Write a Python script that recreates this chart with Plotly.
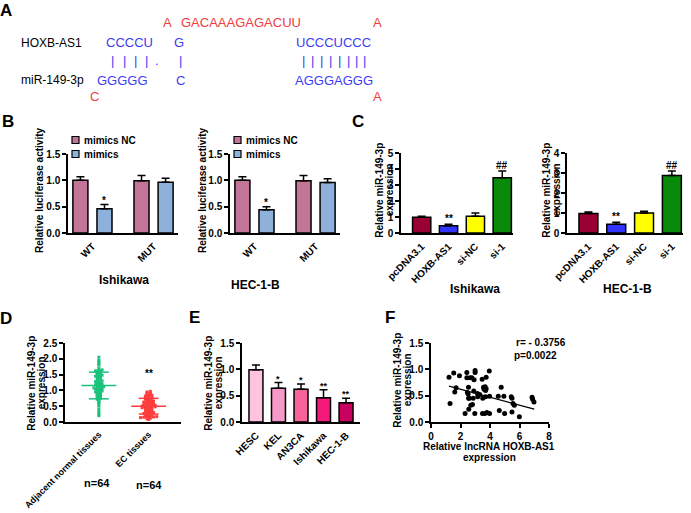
import numpy as np
import plotly.graph_objects as go

W, H = 691, 513
FONT = "Liberation Sans, Arial, sans-serif"
SEQFONT = "Liberation Sans, Arial, sans-serif"

# ---------------- data ----------------
# Panel A (sequence pairing)
a_loop_top = ["A", "GACAAAGAGACUU", "A"]
a_hoxb = ["CCCCU", "G", "UCCCUCCC"]
a_mir = ["GGGGG", "C", "AGGGAGGG"]
a_loop_bottom = ["C", "A"]
a_pairs_left = ["|", "|", "|", "|", ".", "|"]
a_pairs_right = ["|", "|", "|", "|", "|", "|", "|", "|"]
a_names = ["HOXB-AS1", "miR-149-3p"]

# Panel B (luciferase)
b_groups = ["WT", "MUT"]
b_series = ["mimics NC", "mimics"]
b_ish_nc = [1.00, 0.99]
b_ish_nc_err = [0.07, 0.10]
b_ish_mim = [0.46, 0.965]
b_ish_mim_err = [0.08, 0.075]
b_hec_nc = [1.00, 0.99]
b_hec_nc_err = [0.07, 0.10]
b_hec_mim = [0.44, 0.96]
b_hec_mim_err = [0.06, 0.07]
b_sig = ["*", ""]
b_ytitle = "Relative luciferase activity"

# Panel C
c_cats = ["pcDNA3.1", "HOXB-AS1", "si-NC", "si-1"]
c_ish = [0.98, 0.45, 1.05, 3.45]
c_ish_err = [0.06, 0.10, 0.20, 0.43]
c_hec = [0.98, 0.44, 1.00, 2.87]
c_hec_err = [0.07, 0.10, 0.09, 0.23]
c_sig = ["", "**", "", "##"]
cell_lines = ["Ishikawa", "HEC-1-B"]
mir_ytitle = ["Relative miR-149-3p", "expression"]

# Panel D (tissues)
d_cats = ["Adjacent normal tissues", "EC tissues"]
d_normal = [0.20, 0.25, 0.32, 0.40, 0.50, 0.58, 0.62, 0.66, 0.70, 0.72, 0.75,
            0.78, 0.80, 0.83, 0.86, 0.88, 0.90, 0.92, 0.95, 0.97, 1.00, 1.02,
            1.04, 1.06, 1.08, 1.10, 1.12, 1.14, 1.16, 1.18, 1.20, 1.22, 1.25,
            1.28, 1.30, 1.32, 1.35, 1.38, 1.40, 1.42, 1.45, 1.48, 1.50, 1.52,
            1.55, 1.57, 1.58, 1.60, 1.62, 1.63, 1.65, 1.20, 1.05, 0.98, 0.85,
            1.10, 1.30, 1.45, 1.70, 1.80, 1.85, 1.90, 1.95, 2.05]
d_ec = [0.08, 0.10, 0.12, 0.14, 0.15, 0.15, 0.16, 0.17, 0.18, 0.20, 0.22,
        0.24, 0.25, 0.27, 0.28, 0.30, 0.32, 0.34, 0.35, 0.37, 0.38, 0.40,
        0.42, 0.44, 0.45, 0.46, 0.48, 0.48, 0.50, 0.50, 0.51, 0.52, 0.53,
        0.55, 0.56, 0.58, 0.60, 0.60, 0.62, 0.63, 0.65, 0.66, 0.68, 0.70,
        0.72, 0.74, 0.75, 0.77, 0.78, 0.80, 0.82, 0.84, 0.85, 0.87, 0.88,
        0.90, 0.92, 0.95, 0.97, 0.16, 0.47, 0.64, 0.30, 0.55]
d_n = ["n=64", "n=64"]

# Panel E (cell lines)
e_cats = ["HESC", "KEL", "AN3CA", "Ishikawa", "HEC-1-B"]
e_vals = [0.99, 0.64, 0.62, 0.46, 0.365]
e_err = [0.09, 0.11, 0.10, 0.15, 0.085]
e_sig = ["", "*", "*", "**", "**"]

# Panel F (correlation)
f_x = [1.22, 1.29, 1.54, 1.61, 1.70, 1.93, 2.31, 2.43, 2.43, 2.47, 2.52, 2.54,
       2.59, 2.56, 2.65, 2.77, 2.70, 2.81, 2.86, 2.90, 2.92, 2.99, 2.99, 2.97,
       3.15, 3.17, 3.47, 3.49, 3.51, 3.56, 3.63, 3.67, 3.65, 3.74, 3.74, 3.70,
       3.79, 3.95, 3.97, 3.97, 4.56, 4.63, 4.76, 4.94, 4.99, 5.44, 5.49, 5.49,
       5.56, 5.65, 5.99, 6.85, 6.89, 6.98, 3.60, 3.70, 2.55, 3.30]
f_y = [0.85, 0.35, 0.93, 0.57, 0.65, 0.88, 0.16, 0.94, 0.84, 0.56, 0.53, 0.66,
       0.45, 0.24, 0.84, 0.84, 0.32, 0.33, 0.45, 0.59, 0.80, 0.98, 0.94, 0.16,
       0.54, 0.48, 0.81, 0.16, 0.45, 0.66, 0.63, 0.67, 0.16, 0.85, 0.63, 0.48,
       0.18, 0.97, 0.49, 0.16, 0.49, 0.22, 0.66, 0.49, 0.16, 0.48, 0.45, 0.19,
       0.35, 0.32, 0.10, 0.47, 0.43, 0.38, 0.62, 0.60, 0.45, 0.52]
f_fit_x = [1.22, 7.00]
f_fit_y = [0.68, 0.245]
f_stats = ["r= - 0.3756", "p=0.0022"]
f_xtitle = ["Relative lncRNA HOXB-AS1", "expression"]

# ---------------- style ----------------
COL_NC = "#c27499"
COL_MIM = "#8db1da"
C_COLORS = ["#990033", "#3333ff", "#ffff00", "#0a8a0a"]
E_COLORS = ["#ffc2df", "#f799c8", "#f86499", "#f5197c", "#c8005e"]
COL_GREEN = "#19c27b"
COL_RED = "#ff3d3d"
COL_BLUE_A = "#3c3cf2"
COL_RED_A = "#f03c3c"


def fx(px):
    return px / W


def fy(py):
    return 1 - py / H


fig = go.Figure()
annots = []
shapes = []


def axis_style(**kw):
    d = dict(showline=True, linecolor="black", linewidth=1.5, showgrid=False,
             zeroline=False, ticks="outside", ticklen=4, tickwidth=1.5,
             tickcolor="black", fixedrange=True, automargin=False,
             tickfont=dict(family=FONT, size=10, color="black", weight="bold"))
    d.update(kw)
    return d


def title_font(size=10):
    return dict(family=FONT, size=size, color="black", weight="bold")


def text(x, y, s, size=10, color="black", bold=True, xanchor="center",
         yanchor="middle", family=FONT, textangle=0):
    annots.append(dict(x=fx(x), y=fy(y), xref="paper", yref="paper", text=s,
                       showarrow=False, xanchor=xanchor, yanchor=yanchor,
                       textangle=textangle, borderpad=0,
                       font=dict(family=family, size=size, color=color,
                                 weight="bold" if bold else "normal")))


def ytitle(x, y, lines, gap=10.5):
    n = len(lines)
    for i, s in enumerate(lines):
        text(x + (i - (n - 1) / 2) * gap, y, s, size=10, textangle=-90)


# ---------------- Panel A ----------------
text(6, 10, "A", size=17)
ya1, ya2, ya3, ya4 = 23, 43, 60, 80
SQ = 13
text(167.5, ya1, a_loop_top[0], size=SQ, color=COL_RED_A, bold=False, family=SEQFONT)
text(241, ya1, a_loop_top[1], size=SQ, color=COL_RED_A, bold=False, family=SEQFONT)
text(377.5, ya1, a_loop_top[2], size=SQ, color=COL_RED_A, bold=False, family=SEQFONT)
text(51, ya2, a_names[0], size=12, bold=False, family=SEQFONT)
text(52, ya4, a_names[1], size=12, bold=False, family=SEQFONT)
for s, xc in zip(a_hoxb, [129.5, 179, 333.5]):
    text(xc, ya2, s, size=SQ, color=COL_BLUE_A, bold=False, family=SEQFONT)
for s, xc in zip(a_mir, [123, 181, 333.5]):
    text(xc, ya4, s, size=SQ, color=COL_BLUE_A, bold=False, family=SEQFONT)
for s, xc in zip(a_pairs_left, [113, 124, 135, 146, 157, 180]):
    text(xc, ya3, s, size=SQ, color=COL_BLUE_A, bold=False, family=SEQFONT)
for s, xc in zip(a_pairs_right, [303, 312, 321, 330, 339, 348, 356, 364]):
    text(xc, ya3, s, size=SQ, color=COL_BLUE_A, bold=False, family=SEQFONT)
text(94, 96, a_loop_bottom[0], size=SQ, color=COL_RED_A, bold=False, family=SEQFONT)
text(377.5, 96, a_loop_bottom[1], size=SQ, color=COL_RED_A, bold=False, family=SEQFONT)

# ---------------- Panel B ----------------
text(8, 121, "B", size=17)
B_TOP, B_BOT = 154, 233
b_sets = [
    (1, (68, 178), b_ish_nc, b_ish_nc_err, b_ish_mim, b_ish_mim_err, 124, 280, 39),
    (2, (230, 340), b_hec_nc, b_hec_nc_err, b_hec_mim, b_hec_mim_err, 255, 285, 202),
]
BW = 0.246
for k, dom, nc, ncerr, mim, mimerr, lx, ly, tx in b_sets:
    xa = "x" if k == 1 else f"x{k}"
    ya = "y" if k == 1 else f"y{k}"
    for vals, errs, col, off, nm in [(nc, ncerr, COL_NC, -0.32, b_series[0]),
                                      (mim, mimerr, COL_MIM, 0.074, b_series[1])]:
        fig.add_trace(go.Bar(
            x=b_groups, y=vals, width=BW, offset=off, name=nm, showlegend=False,
            xaxis=xa, yaxis=ya,
            marker=dict(color=col, line=dict(color="black", width=1.5)),
            error_y=dict(type="data", array=errs, arrayminus=[0] * len(errs),
                         symmetric=False, color="black", thickness=1.5, width=4)))
    for i, s in enumerate(b_sig):
        if s:
            annots.append(dict(x=i + 0.074 + BW / 2, y=mim[i] + mimerr[i],
                               xref=xa, yref=ya, text=s, showarrow=False,
                               yanchor="bottom", yshift=-3,
                               font=title_font(10)))
    fig.layout[f"xaxis{k}"] = axis_style(
        domain=[fx(dom[0]), fx(dom[1])], anchor=ya, type="category",
        range=[-0.4, 1.4], ticks="", tickangle=-45, ticklabelstandoff=2)
    fig.layout[f"yaxis{k}"] = axis_style(
        domain=[fy(B_BOT), fy(B_TOP)], anchor=xa, range=[0, 1.5],
        tickvals=[0, 0.5, 1.0, 1.5], ticktext=["0.0", "0.5", "1.0", "1.5"])
    ytitle(tx, 190, [b_ytitle])
    # legend swatches
    for j, (nm, col) in enumerate(zip(b_series, [COL_NC, COL_MIM])):
        yy = 140 + 14 * j
        x0 = dom[0] + 4
        shapes.append(dict(type="rect", xref="paper", yref="paper",
                           x0=fx(x0), x1=fx(x0 + 7), y0=fy(yy + 3.5), y1=fy(yy - 3.5),
                           fillcolor=col, line=dict(color="black", width=1.2)))
        text(x0 + 11, yy, nm, size=10, xanchor="left")
    text(lx, ly, cell_lines[k - 1], size=12)

# ---------------- Panel C ----------------
text(358, 121, "C", size=17)
C_TOP, C_BOT = 153, 233
c_sets = [(3, (401, 513), c_ish, c_ish_err, [0, 1, 2, 3, 4, 5], 475, 289, 384),
          (4, (567, 683), c_hec, c_hec_err, [0, 1, 2, 3, 4], 627, 289, 551)]
for k, dom, vals, errs, tv, lx, ly, tx in c_sets:
    xa, ya = f"x{k}", f"y{k}"
    fig.add_trace(go.Bar(
        x=c_cats, y=vals, width=0.68, showlegend=False, xaxis=xa, yaxis=ya,
        marker=dict(color=C_COLORS, line=dict(color="black", width=1.5)),
        error_y=dict(type="data", array=errs, arrayminus=[0] * len(errs),
                     symmetric=False, color="black", thickness=1.5, width=4)))
    for i, s in enumerate(c_sig):
        if s:
            annots.append(dict(x=i, y=vals[i] + errs[i], xref=xa, yref=ya,
                               text=s, showarrow=False, yanchor="bottom",
                               yshift=-2, font=title_font(10)))
    fig.layout[f"xaxis{k}"] = axis_style(
        domain=[fx(dom[0]), fx(dom[1])], anchor=ya, type="category",
        range=[-0.77, 3.4], ticks="", tickangle=-45, ticklabelstandoff=2)
    fig.layout[f"yaxis{k}"] = axis_style(
        domain=[fy(C_BOT), fy(C_TOP)], anchor=xa, range=[0, tv[-1]],
        tickvals=tv)
    ytitle(tx, 190, mir_ytitle)
    text(lx, ly, cell_lines[k - 3], size=12)

# ---------------- Panel D ----------------
text(6, 318, "D", size=17)
LOW_TOP, LOW_BOT = 343, 422


def swarm(vals, binsize, step):
    vals = np.asarray(vals)
    order = np.argsort(vals, kind="stable")
    bins = np.floor(vals / binsize).astype(int)
    offs = np.zeros(len(vals))
    for b in np.unique(bins):
        idx = [i for i in order if bins[i] == b]
        n = len(idx)
        for j, i in enumerate(idx):
            offs[i] = (j - (n - 1) / 2) * step
    return offs


for ci, (vals, col) in enumerate([(d_normal, COL_GREEN), (d_ec, COL_RED)]):
    v = np.asarray(vals)
    offs = swarm(v, 0.045, 0.065)
    fig.add_trace(go.Scatter(
        x=ci + offs, y=v, mode="markers", xaxis="x5", yaxis="y5",
        showlegend=False,
        marker=dict(color=col, size=3, symbol="square", line=dict(width=0))))
    m, sd = v.mean(), v.std(ddof=1)
    fig.add_trace(go.Scatter(
        x=[ci - 0.35, ci + 0.35, None, ci - 0.2, ci + 0.2, None,
           ci - 0.2, ci + 0.2, None, ci, ci],
        y=[m, m, None, m + sd, m + sd, None, m - sd, m - sd, None, m - sd, m + sd],
        mode="lines", xaxis="x5", yaxis="y5", showlegend=False,
        line=dict(color=col, width=1.5)))
annots.append(dict(x=1, y=max(d_ec) + 0.32, xref="x5", yref="y5", text="**",
                   showarrow=False, yanchor="bottom", font=title_font(10)))
fig.layout["xaxis5"] = axis_style(
    domain=[fx(65), fx(181)], anchor="y5", range=[-0.68, 1.65],
    tickvals=[0, 1], ticktext=d_cats, ticks="", tickangle=-45,
    ticklabelstandoff=2,
    tickfont=dict(family=FONT, size=9, color="black", weight="bold"))
fig.layout["yaxis5"] = axis_style(
    domain=[fy(LOW_BOT), fy(LOW_TOP)], anchor="x5", range=[0, 2.5],
    tickvals=[0, 0.5, 1.0, 1.5, 2.0, 2.5],
    ticktext=["0.0", "0.5", "1.0", "1.5", "2.0", "2.5"])
ytitle(36, 383, mir_ytitle)
text(97, 483, d_n[0], size=11)
text(149, 485, d_n[1], size=11)

# ---------------- Panel E ----------------
text(194, 317, "E", size=17)
fig.add_trace(go.Bar(
    x=e_cats, y=e_vals, width=0.62, showlegend=False, xaxis="x6", yaxis="y6",
    marker=dict(color=E_COLORS, line=dict(color="black", width=1.5)),
    error_y=dict(type="data", array=e_err, arrayminus=[0] * len(e_err),
                 symmetric=False, color="black", thickness=1.5, width=4)))
for i, s in enumerate(e_sig):
    if s:
        annots.append(dict(x=i, y=e_vals[i] + e_err[i], xref="x6", yref="y6",
                           text=s, showarrow=False, yanchor="bottom", yshift=-3,
                           font=title_font(9)))
fig.layout["xaxis6"] = axis_style(
    domain=[fx(242), fx(360)], anchor="y6", type="category",
    range=[-0.62, 4.62], ticks="", tickangle=-45, ticklabelstandoff=2)
fig.layout["yaxis6"] = axis_style(
    domain=[fy(LOW_BOT), fy(LOW_TOP)], anchor="x6", range=[0, 1.5],
    tickvals=[0, 0.5, 1.0, 1.5], ticktext=["0.0", "0.5", "1.0", "1.5"])
ytitle(213, 383, mir_ytitle)

# ---------------- Panel F ----------------
text(390, 317, "F", size=17)
fig.add_trace(go.Scatter(
    x=f_x, y=f_y, mode="markers", xaxis="x7", yaxis="y7", showlegend=False,
    marker=dict(color="black", size=5)))
fig.add_trace(go.Scatter(
    x=f_fit_x, y=f_fit_y, mode="lines", xaxis="x7", yaxis="y7",
    showlegend=False, line=dict(color="black", width=1.2)))
fig.layout["xaxis7"] = axis_style(
    domain=[fx(431), fx(549)], anchor="y7", range=[0, 8],
    tickvals=[0, 2, 4, 6, 8])
fig.layout["yaxis7"] = axis_style(
    domain=[fy(LOW_BOT), fy(LOW_TOP)], anchor="x7", range=[0, 1.5],
    tickvals=[0, 0.5, 1.0, 1.5], ticktext=["0.0", "0.5", "1.0", "1.5"])
ytitle(402, 380, mir_ytitle)
text(489, 446.5, f_xtitle[0], size=10)
text(489, 457.5, f_xtitle[1], size=10)
text(515, 342, f_stats[0], size=10, xanchor="left")
text(513, 355, f_stats[1], size=10, xanchor="left")

fig.update_layout(
    width=W, height=H, margin=dict(l=0, r=0, t=0, b=0, autoexpand=False),
    paper_bgcolor="white", plot_bgcolor="white", barmode="overlay",
    font=dict(family=FONT, color="black"),
    annotations=annots, shapes=shapes, showlegend=False)

fig.write_html("out.html", config={"displayModeBar": False},
               post_script="document.body.style.margin='0';"
                           "document.body.style.padding='0';"
                           "document.body.style.overflow='hidden';")
